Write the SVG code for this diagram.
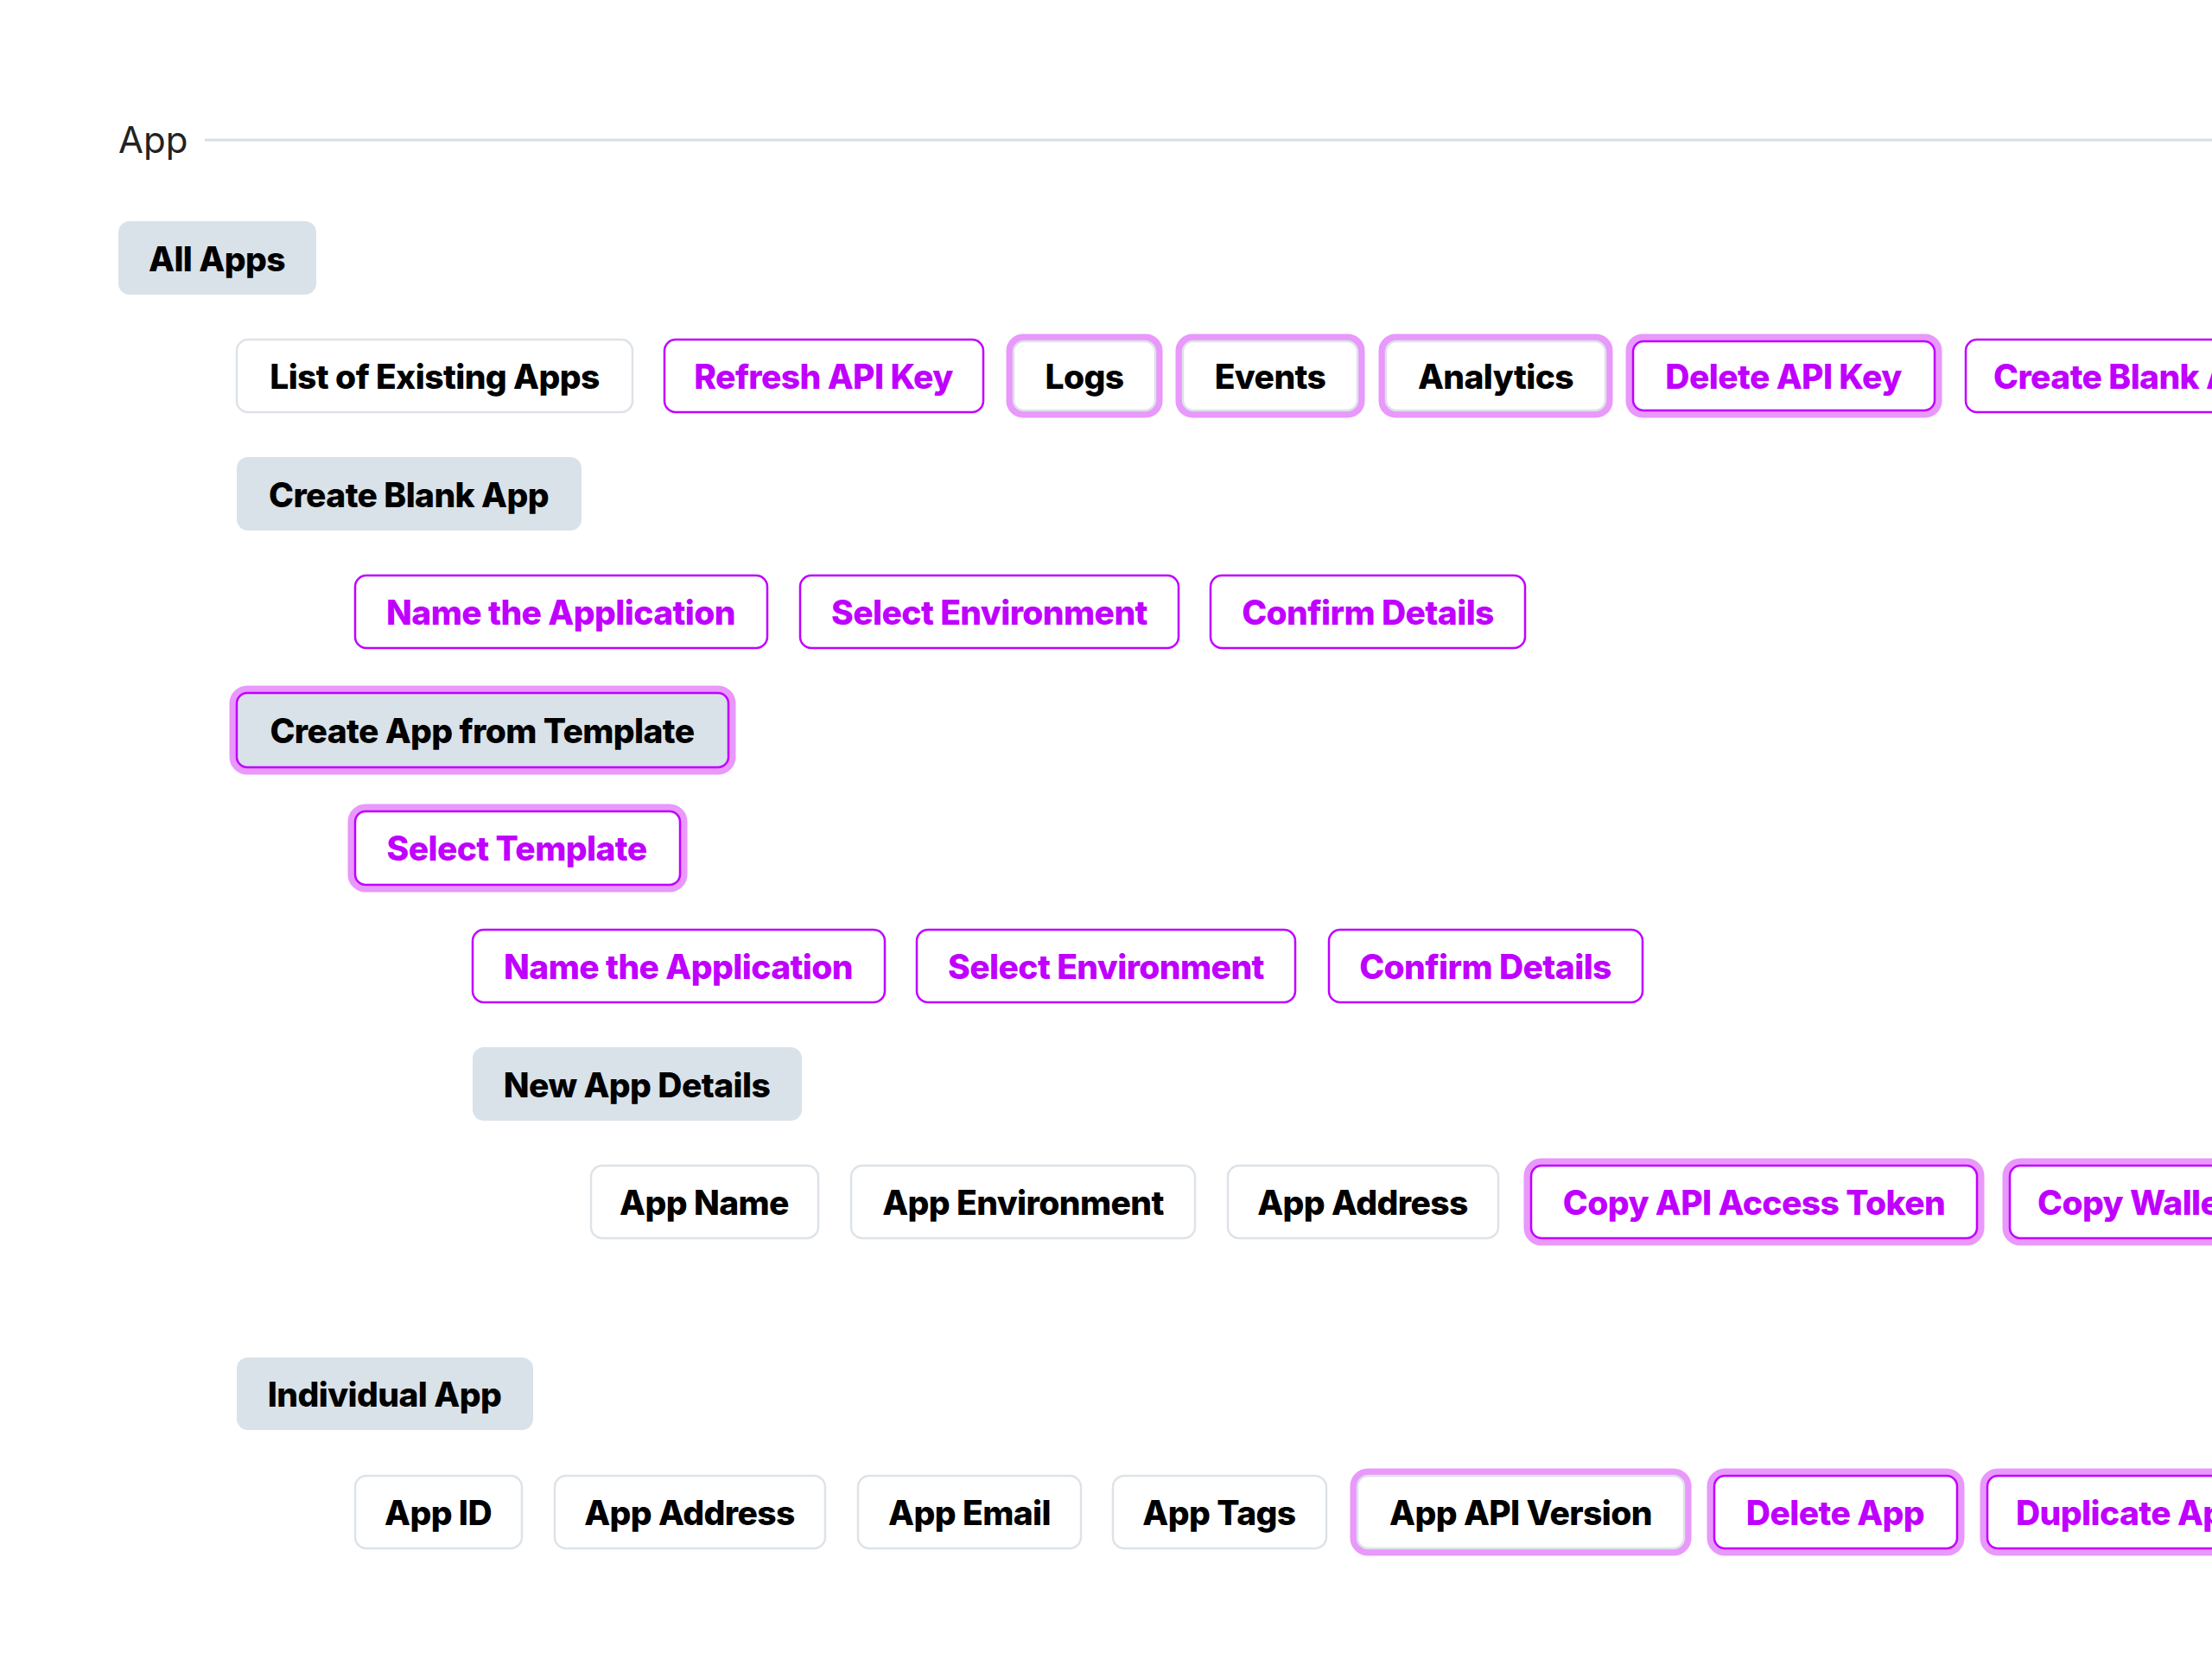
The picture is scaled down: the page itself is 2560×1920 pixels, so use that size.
<svg xmlns="http://www.w3.org/2000/svg" width="2560" height="1920" viewBox="0 0 2560 1920">
<style>
.bg{fill:#ffffff}
.halo{fill:none;stroke:#e998fb;stroke-width:9}
.w{fill:#ffffff;stroke:#dde3e8;stroke-width:2.5}
.p{fill:#ffffff;stroke:#c000ff;stroke-width:2.5}
.g{fill:#d9e2e8;stroke:none}
.gp{fill:#d9e2e8;stroke:#c000ff;stroke-width:2.5}
text{font-family:Inter,"Liberation Sans",sans-serif;font-weight:800;font-size:39px;text-anchor:middle;letter-spacing:-0.6px}
.tk{fill:#000000}
.tp{fill:#c000ff}
.title{font-weight:400;font-size:42px;text-anchor:start;fill:#222222;letter-spacing:0}
</style>
<rect class="bg" width="2560" height="1920"/>
<g id="connectors">
<line x1="237" y1="162" x2="2560" y2="162" stroke="#d8dee4" stroke-width="3"/>
</g>
<text class="title" x="137" y="177">App</text>
<g id="all-apps"><rect class="g" x="137" y="256" width="229" height="85" rx="13"/><text class="tk" x="251" y="314">All Apps</text></g>
<g id="list-existing"><rect class="w" x="274" y="393" width="458" height="84" rx="13"/><text class="tk" x="503" y="450">List of Existing Apps</text></g>
<g id="refresh-key"><rect class="p" x="769" y="393" width="369" height="84" rx="13"/><text class="tp" x="953" y="450">Refresh API Key</text></g>
<g id="logs"><rect class="halo" x="1169" y="391" width="172" height="88" rx="15"/><rect class="w" x="1173" y="395" width="164" height="80" rx="12"/><text class="tk" x="1255" y="450">Logs</text></g>
<g id="events"><rect class="halo" x="1365" y="391" width="210" height="88" rx="15"/><rect class="w" x="1369" y="395" width="202" height="80" rx="12"/><text class="tk" x="1470" y="450">Events</text></g>
<g id="analytics"><rect class="halo" x="1600" y="391" width="262" height="88" rx="15"/><rect class="w" x="1604" y="395" width="254" height="80" rx="12"/><text class="tk" x="1731" y="450">Analytics</text></g>
<g id="delete-key"><rect class="halo" x="1886" y="391" width="357" height="88" rx="15"/><rect class="p" x="1890" y="395" width="349" height="80" rx="12"/><text class="tp" x="2064" y="450">Delete API Key</text></g>
<g id="create-blank-top"><rect class="p" x="2275" y="393" width="400" height="84" rx="13"/><text class="tp" x="2307" y="450" style="text-anchor:start">Create Blank App</text></g>
<g id="create-blank"><rect class="g" x="274" y="529" width="399" height="85" rx="13"/><text class="tk" x="473" y="587">Create Blank App</text></g>
<g id="name-app-1"><rect class="p" x="411" y="666" width="477" height="84" rx="13"/><text class="tp" x="649" y="723">Name the Application</text></g>
<g id="select-env-1"><rect class="p" x="926" y="666" width="438" height="84" rx="13"/><text class="tp" x="1145" y="723">Select Environment</text></g>
<g id="confirm-1"><rect class="p" x="1401" y="666" width="364" height="84" rx="13"/><text class="tp" x="1583" y="723">Confirm Details</text></g>
<g id="create-template"><rect class="halo" x="270" y="798" width="577" height="94" rx="16"/><rect class="gp" x="274" y="802" width="569" height="86" rx="12"/><text class="tk" x="558" y="860">Create App from Template</text></g>
<g id="select-template"><rect class="halo" x="407" y="935" width="384" height="93" rx="16"/><rect class="p" x="411" y="939" width="376" height="85" rx="12"/><text class="tp" x="598" y="996">Select Template</text></g>
<g id="name-app-2"><rect class="p" x="547" y="1076" width="477" height="84" rx="13"/><text class="tp" x="785" y="1133">Name the Application</text></g>
<g id="select-env-2"><rect class="p" x="1061" y="1076" width="438" height="84" rx="13"/><text class="tp" x="1280" y="1133">Select Environment</text></g>
<g id="confirm-2"><rect class="p" x="1538" y="1076" width="363" height="84" rx="13"/><text class="tp" x="1719" y="1133">Confirm Details</text></g>
<g id="new-app-details"><rect class="g" x="547" y="1212" width="381" height="85" rx="13"/><text class="tk" x="737" y="1270">New App Details</text></g>
<g id="app-name"><rect class="w" x="684" y="1349" width="263" height="84" rx="13"/><text class="tk" x="815" y="1406">App Name</text></g>
<g id="app-env"><rect class="w" x="985" y="1349" width="398" height="84" rx="13"/><text class="tk" x="1184" y="1406">App Environment</text></g>
<g id="app-address-1"><rect class="w" x="1421" y="1349" width="313" height="84" rx="13"/><text class="tk" x="1577" y="1406">App Address</text></g>
<g id="copy-token"><rect class="halo" x="1768" y="1345" width="524" height="92" rx="16"/><rect class="p" x="1772" y="1349" width="516" height="84" rx="12"/><text class="tp" x="2030" y="1406">Copy API Access Token</text></g>
<g id="copy-wallet"><rect class="halo" x="2322" y="1345" width="400" height="92" rx="16"/><rect class="p" x="2326" y="1349" width="392" height="84" rx="12"/><text class="tp" x="2358" y="1406" style="text-anchor:start">Copy Wallet Address</text></g>
<g id="individual-app"><rect class="g" x="274" y="1571" width="343" height="84" rx="13"/><text class="tk" x="445" y="1628">Individual App</text></g>
<g id="app-id"><rect class="w" x="411" y="1708" width="193" height="84" rx="13"/><text class="tk" x="507" y="1765">App ID</text></g>
<g id="app-address-2"><rect class="w" x="642" y="1708" width="313" height="84" rx="13"/><text class="tk" x="798" y="1765">App Address</text></g>
<g id="app-email"><rect class="w" x="993" y="1708" width="258" height="84" rx="13"/><text class="tk" x="1122" y="1765">App Email</text></g>
<g id="app-tags"><rect class="w" x="1288" y="1708" width="247" height="84" rx="13"/><text class="tk" x="1411" y="1765">App Tags</text></g>
<g id="app-api-version"><rect class="halo" x="1567" y="1704" width="386" height="92" rx="16"/><rect class="w" x="1571" y="1708" width="378" height="84" rx="12"/><text class="tk" x="1760" y="1765">App API Version</text></g>
<g id="delete-app"><rect class="halo" x="1980" y="1704" width="289" height="92" rx="16"/><rect class="p" x="1984" y="1708" width="281" height="84" rx="12"/><text class="tp" x="2124" y="1765">Delete App</text></g>
<g id="duplicate-app"><rect class="halo" x="2296" y="1704" width="400" height="92" rx="16"/><rect class="p" x="2300" y="1708" width="392" height="84" rx="12"/><text class="tp" x="2333" y="1765" style="text-anchor:start">Duplicate App</text></g>
</svg>
